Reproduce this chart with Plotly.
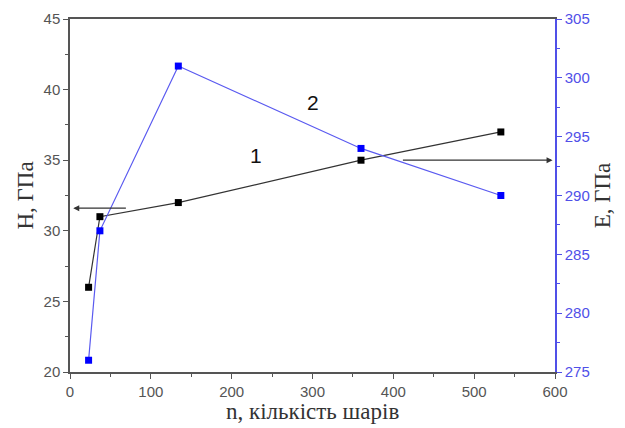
import plotly.graph_objects as go

# Data
n_layers = [23, 37, 134, 360, 533]
hardness = [26.0, 31.0, 32.0, 35.0, 37.0]     # H, GPa (left axis)
modulus = [276, 287, 301, 294, 290]           # E, GPa (right axis)

x_ticks = [0, 100, 200, 300, 400, 500, 600]
h_ticks = [20, 25, 30, 35, 40, 45]
e_ticks = [275, 280, 285, 290, 295, 300, 305]

x_title = "n, кількість шарів"
h_title = "H, ГПа"
e_title = "E, ГПа"

gray = "#555555"
blue = "#5050e8"
tick_font = dict(family="Liberation Sans, Arial, sans-serif", size=15, color=gray)
title_font = dict(family="Liberation Serif", size=23, color="#333333")

fig = go.Figure()
fig.add_trace(go.Scatter(
    x=n_layers, y=hardness, mode="lines+markers",
    line=dict(color="#333333", width=1.2),
    marker=dict(symbol="square", size=7, color="#000000"),
    yaxis="y", showlegend=False))
fig.add_trace(go.Scatter(
    x=n_layers, y=modulus, mode="lines+markers",
    line=dict(color="#5a5af0", width=1.2),
    marker=dict(symbol="square", size=7, color="#0000ff"),
    yaxis="y2", showlegend=False))

# Curve labels
fig.add_annotation(x=230, y=35.3, xref="x", yref="y", text="1", showarrow=False,
                   font=dict(family="Liberation Sans, Arial, sans-serif", size=21, color="#111111"))
fig.add_annotation(x=301, y=39.1, xref="x", yref="y", text="2", showarrow=False,
                   font=dict(family="Liberation Sans, Arial, sans-serif", size=21, color="#111111"))

# Axis-pointer arrows
fig.add_annotation(x=4, y=31.6, ax=71, ay=31.6, xref="x", yref="y", axref="x", ayref="y",
                   text="", showarrow=True, arrowhead=2, arrowsize=1, arrowwidth=1.2,
                   arrowcolor="#333333")
fig.add_annotation(x=597, y=35.0, ax=410, ay=35.0, xref="x", yref="y", axref="x", ayref="y",
                   text="", showarrow=True, arrowhead=2, arrowsize=1, arrowwidth=1.2,
                   arrowcolor="#333333")

# X-axis title as annotation (avoids overlapping the tick labels)
fig.add_annotation(x=0.5, y=0, xref="paper", yref="paper", text=x_title, showarrow=False,
                   xanchor="center", yanchor="top", yshift=-25, font=title_font)

fig.update_layout(
    width=625, height=428,
    margin=dict(l=70, r=70, t=19, b=56),
    plot_bgcolor="white", paper_bgcolor="white",
    xaxis=dict(range=[0, 600], tickvals=x_ticks, ticks="outside", ticklen=5,
               tickcolor=gray, showline=True, linecolor=gray, linewidth=1.5,
               mirror=True, showgrid=False, zeroline=False, tickfont=tick_font,
               automargin=False,
               minor=dict(dtick=50, ticks="outside", ticklen=3, tickcolor=gray)),
    yaxis=dict(range=[20, 45], tickvals=h_ticks, ticks="outside", ticklen=5,
               tickcolor=gray, showline=True, linecolor=gray, linewidth=1.5,
               showgrid=False, zeroline=False, tickfont=tick_font, automargin=False,
               minor=dict(dtick=2.5, ticks="outside", ticklen=3, tickcolor=gray),
               title=dict(text=h_title, font=title_font, standoff=4)),
    yaxis2=dict(range=[275, 305], tickvals=e_ticks, overlaying="y", side="right",
                ticks="outside", ticklen=5, tickcolor=blue, showline=True,
                linecolor=blue, linewidth=1.5, showgrid=False, zeroline=False,
                automargin=False,
                tickfont=dict(family="Liberation Sans, Arial, sans-serif", size=15, color=blue),
                minor=dict(dtick=2.5, ticks="outside", ticklen=3, tickcolor=blue),
                title=dict(text=e_title, font=title_font, standoff=4)),
)

fig.write_html("out.html")
